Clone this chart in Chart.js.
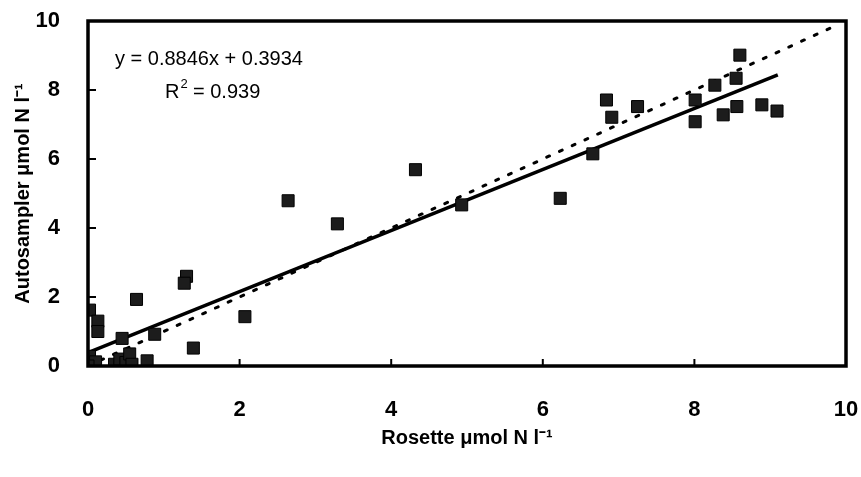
<!DOCTYPE html>
<html lang="en">
<head>
    <meta charset="UTF-8">
    <title>Autosampler vs Rosette</title>
    <style>
        html, body { margin: 0; padding: 0; background: #fff; }
        #wrap { width: 861px; height: 477px; }
    </style>
</head>
<body>
    <div id="wrap"><canvas id="scatter"></canvas></div>
    <script src="https://cdn.jsdelivr.net/npm/chart.js"></script>
    <script>
        // sample values
        const rosette = [
            0.02, 0.13, 0.13, 0.64, 1.30, 1.27, 0.88, 1.39, 2.07, 0.78,
            0.02, 0.05, 0.45, 0.35, 0.42, 0.50, 0.55, 0.58, 0.10, 0.00,
            2.64, 3.29, 4.32, 4.93, 6.23, 6.66,
            6.84, 6.91, 7.25, 8.01, 8.01, 8.27, 8.38, 8.56, 8.55, 8.60, 8.89, 9.09
        ];
        const autosampler = [
            1.62, 1.30, 1.00, 1.93, 2.60, 2.40, 0.92, 0.52, 1.43, 0.15,
            0.28, 0.05, 0.80, 0.05, 0.20, 0.10, 0.35, 0.05, 0.12, 0.00,
            4.79, 4.12, 5.69, 4.67, 4.86, 6.15,
            7.71, 7.21, 7.52, 7.71, 7.08, 8.14, 7.28, 7.52, 8.34, 9.01, 7.57, 7.39
        ];
        // fitted line (y = 0.8846x + 0.3934) end points and the 1:1 line
        const fitX = [0, 9.1];
        const fitY = [0.39, 8.44];
        const oneX = [0, 9.8];
        const oneY = [0, 9.8];
        const tickVals = [2, 4, 6, 8];

        const pts = (xs, ys) => xs.map((x, i) => ({ x: x, y: ys[i] }));
        const FONT = '"Liberation Sans", Arial, sans-serif';

        // frame, inside tick marks and the equation text
        const framePlugin = {
            id: 'frame',
            afterDatasetsDraw(chart) {
                const { ctx, chartArea: a, scales } = chart;
                ctx.save();
                ctx.strokeStyle = '#000';
                ctx.lineWidth = 2;
                tickVals.forEach(v => {
                    const px = scales.x.getPixelForValue(v);
                    ctx.beginPath(); ctx.moveTo(px, a.bottom); ctx.lineTo(px, a.bottom - 7); ctx.stroke();
                    const py = scales.y.getPixelForValue(v);
                    ctx.beginPath(); ctx.moveTo(a.left, py); ctx.lineTo(a.left + 8, py); ctx.stroke();
                });
                ctx.lineWidth = 3.5;
                ctx.strokeRect(a.left, a.top, a.right - a.left, a.bottom - a.top);

                ctx.fillStyle = '#000';
                ctx.font = '20px ' + FONT;
                ctx.textBaseline = 'alphabetic';
                ctx.fillText('y = 0.8846x + 0.3934', 115, 65);
                ctx.fillText('R', 165, 98);
                const rw = ctx.measureText('R').width;
                ctx.font = '13px ' + FONT;
                ctx.fillText('2', 165 + rw + 1, 88);
                ctx.font = '20px ' + FONT;
                ctx.fillText(' = 0.939', 165 + rw + 8, 98);
                ctx.restore();
            }
        };

        new Chart(document.getElementById('scatter'), {
            type: 'scatter',
            data: {
                datasets: [{
                    data: pts(rosette, autosampler),
                    pointStyle: 'rect',
                    pointRadius: 8.5,
                    backgroundColor: '#1c1c1c',
                    borderColor: '#000',
                    borderWidth: 1
                }, {
                    data: pts(fitX, fitY),
                    showLine: true,
                    pointRadius: 0,
                    borderColor: '#000',
                    borderWidth: 3.5
                }, {
                    data: pts(oneX, oneY),
                    showLine: true,
                    pointRadius: 0,
                    borderColor: '#000',
                    borderWidth: 3,
                    borderDash: [3, 11],
                    borderCapStyle: 'round'
                }]
            },
            options: {
                responsive: true,
                maintainAspectRatio: false,
                animation: false,
                layout: { padding: { top: 21, right: 15, bottom: 20, left: 0 } },
                plugins: { legend: { display: false }, tooltip: { enabled: false } },
                scales: {
                    x: {
                        type: 'linear', min: 0, max: 10,
                        grid: { display: false },
                        border: { display: false },
                        afterFit(s) { s.height = 91; s.paddingLeft = 0; s.paddingRight = 0; },
                        ticks: {
                            stepSize: 2, padding: 23, color: '#000',
                            font: { family: FONT, size: 22, weight: 'bold' }
                        },
                        title: {
                            display: true, text: 'Rosette \u03bcmol N l\u207b\u00b9', color: '#000',
                            padding: { top: 0, bottom: 7 },
                            font: { family: FONT, size: 20, weight: 'bold' }
                        }
                    },
                    y: {
                        type: 'linear', min: 0, max: 10,
                        grid: { display: false },
                        border: { display: false },
                        afterFit(s) { s.width = 88; s.paddingTop = 0; s.paddingBottom = 0; },
                        ticks: {
                            stepSize: 2, padding: 20, color: '#000',
                            font: { family: FONT, size: 22, weight: 'bold' }
                        },
                        title: {
                            display: true, text: 'Autosampler \u03bcmol N l\u207b\u00b9', color: '#000',
                            padding: { top: 11, bottom: 0 },
                            font: { family: FONT, size: 20, weight: 'bold' }
                        }
                    }
                }
            },
            plugins: [framePlugin]
        });
    </script>
</body>
</html>
